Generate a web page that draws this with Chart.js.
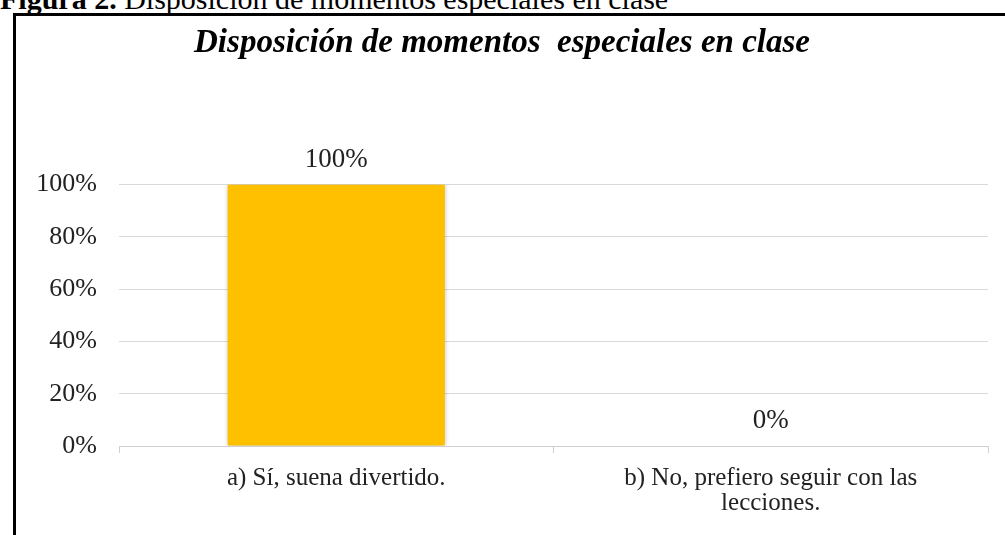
<!DOCTYPE html>
<html>
<head>
<meta charset="utf-8">
<script src="https://cdn.jsdelivr.net/npm/chart.js@4.4.0/dist/chart.umd.min.js"></script>
<style>
    body { margin: 0; background: #fff; overflow: hidden; }
    #caption {
        position: absolute; left: 0; top: -16px;
        font-family: 'Liberation Serif', serif; font-size: 30px; line-height: 30px;
        color: #000; white-space: nowrap;
    }
    #frame {
        position: absolute; left: 13px; top: 13px;
        width: 1000px; height: 530px;
        border: 3px solid #000;
    }
    #frame canvas { display: block; }
</style>
</head>
<body>
<div id="caption"><b>Figura 2.</b> Disposición de momentos especiales en clase</div>
<div id="frame">
    <canvas id="myChart" width="1000" height="530"></canvas>
</div>
<script>
    const titleText = 'Disposición de momentos  especiales en clase';
    const categories = [
        'a) Sí, suena divertido.',
        ['b) No, prefiero seguir con las', 'lecciones.']
    ];
    const values = [1, 0];
    const yTicks = [0, 0.2, 0.4, 0.6, 0.8, 1];

    const serif = "'Liberation Serif', 'Times New Roman', serif";
    const pct = v => Math.round(v * 100) + '%';

    // value labels above the bars
    const valueLabels = {
        id: 'valueLabels',
        beforeDatasetDraw(chart) {
            const ctx = chart.ctx;
            ctx.save();
            ctx.shadowColor = 'rgba(0, 0, 0, 0.3)';
            ctx.shadowBlur = 5;
        },
        afterDatasetDraw(chart) {
            chart.ctx.restore();
        },
        afterDatasetsDraw(chart) {
            const ctx = chart.ctx;
            const meta = chart.getDatasetMeta(0);
            ctx.save();
            ctx.font = '27px ' + serif;
            ctx.fillStyle = '#222';
            ctx.textAlign = 'center';
            ctx.textBaseline = 'alphabetic';
            meta.data.forEach(function (bar, i) {
                ctx.fillText(pct(values[i]), bar.x, bar.y - 18);
            });
            ctx.restore();
        }
    };

    new Chart(document.getElementById('myChart'), {
        type: 'bar',
        data: {
            labels: categories,
            datasets: [{
                data: values,
                backgroundColor: '#FFC000',
                borderWidth: 0,
                barPercentage: 0.5,
                categoryPercentage: 1
            }]
        },
        options: {
            responsive: false,
            animation: false,
            layout: { padding: { left: 0, right: 28, top: 0, bottom: 17 } },
            plugins: {
                legend: { display: false },
                tooltip: { enabled: false },
                title: {
                    display: true,
                    text: titleText,
                    color: '#000',
                    font: { family: serif, size: 33, weight: 'bold', style: 'italic', lineHeight: 1.2 },
                    padding: { top: 8, bottom: 121 }
                }
            },
            scales: {
                x: {
                    grid: {
                        offset: true,
                        drawOnChartArea: false,
                        drawTicks: true,
                        tickLength: 7,
                        color: '#d0d0d0'
                    },
                    border: { color: '#d0d0d0' },
                    ticks: {
                        color: '#222',
                        font: { family: serif, size: 25, lineHeight: 1 },
                        padding: 13,
                        maxRotation: 0,
                        autoSkip: false
                    }
                },
                y: {
                    min: 0,
                    max: 1,
                    afterFit(scale) { scale.width = 103; },
                    afterBuildTicks(scale) { scale.ticks = yTicks.map(v => ({ value: v })); },
                    grid: { color: '#d9d9d9', drawTicks: false },
                    border: { display: false },
                    ticks: {
                        color: '#222',
                        font: { family: serif, size: 26 },
                        padding: 22,
                        callback: v => pct(v)
                    }
                }
            }
        },
        plugins: [valueLabels]
    });
</script>
</body>
</html>
